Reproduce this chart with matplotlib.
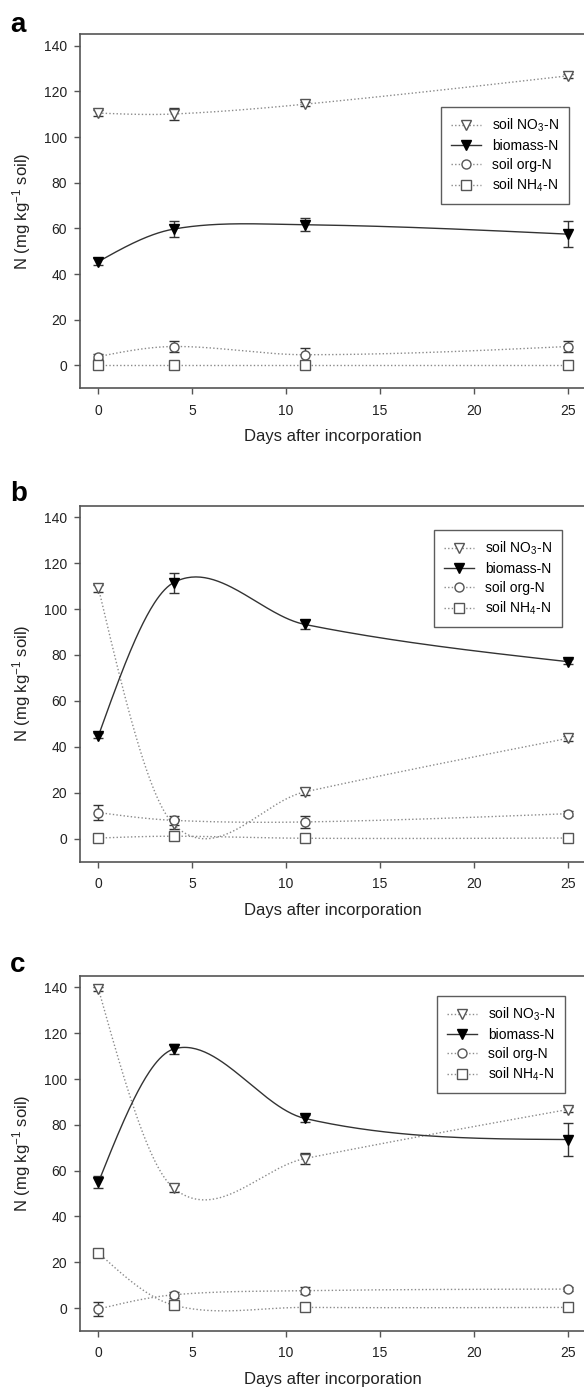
import numpy as np
import matplotlib
matplotlib.use("Agg")
import matplotlib.pyplot as plt

plt.rcParams['font.family'] = ['Liberation Sans', 'DejaVu Sans']
plt.rcParams['mathtext.default'] = 'regular'

# sampling days
days = [0, 4, 11, 25]

# panel a
a_no3 = [110.5, 110.1, 114.4, 126.8]
a_no3_err = [1.2, 2.7, 1.0, 1.0]
a_bio = [45.5, 59.7, 61.6, 57.5]
a_bio_err = [1.5, 3.4, 2.8, 5.7]
a_org = [3.9, 8.3, 4.7, 8.3]
a_org_err = [1.0, 2.4, 2.9, 2.6]
a_nh4 = [0.0, 0.0, 0.0, 0.0]
a_nh4_err = [0.5, 0.3, 1.0, 0.5]

# panel b
b_no3 = [109.1, 6.3, 20.4, 43.7]
b_no3_err = [1.5, 2.0, 1.5, 1.0]
b_bio = [44.9, 111.5, 93.3, 77.1]
b_bio_err = [1.0, 4.4, 2.0, 1.0]
b_org = [11.4, 8.0, 7.3, 10.9]
b_org_err = [3.3, 2.0, 2.5, 1.0]
b_nh4 = [0.3, 1.1, 0.2, 0.3]
b_nh4_err = [0.5, 0.8, 0.5, 0.5]

# panel c
c_no3 = [139.3, 52.4, 65.3, 86.7]
c_no3_err = [1.0, 1.5, 2.5, 1.0]
c_bio = [55.0, 113.1, 82.8, 73.6]
c_bio_err = [2.6, 2.3, 1.5, 7.3]
c_org = [-0.4, 5.8, 7.6, 8.3]
c_org_err = [3.0, 1.2, 1.5, 1.0]
c_nh4 = [24.1, 1.3, 0.3, 0.3]
c_nh4_err = [1.3, 1.0, 0.5, 0.5]

labels = ['soil NO$_3$-N', 'biomass-N', 'soil org-N', 'soil NH$_4$-N']


def spline(x, y, num=60):
    # Catmull-Rom style hermite curve through the points, natural-ish ends
    x = np.asarray(x, float)
    y = np.asarray(y, float)
    n = len(x)
    m = np.zeros(n)
    for i in range(1, n - 1):
        m[i] = (y[i + 1] - y[i - 1]) / (x[i + 1] - x[i - 1])
    d0 = (y[1] - y[0]) / (x[1] - x[0])
    d1 = (y[-1] - y[-2]) / (x[-1] - x[-2])
    m[0] = 1.5 * d0 - 0.5 * m[1]
    m[-1] = 1.5 * d1 - 0.5 * m[-2]
    xs_all, ys_all = [], []
    for i in range(n - 1):
        h = x[i + 1] - x[i]
        t = np.linspace(0, 1, num)
        h00 = 2 * t**3 - 3 * t**2 + 1
        h10 = t**3 - 2 * t**2 + t
        h01 = -2 * t**3 + 3 * t**2
        h11 = t**3 - t**2
        xs_all.append(x[i] + t * h)
        ys_all.append(h00 * y[i] + h10 * h * m[i] + h01 * y[i + 1] + h11 * h * m[i + 1])
    return np.concatenate(xs_all), np.concatenate(ys_all)


W, H = 584, 1389
fig = plt.figure(figsize=(W / 100, H / 100), dpi=100)

# axes boxes in pixels: (left, top, right, bottom)
boxes = [(79.7, 34.3, 586.5, 388.3), (79.7, 505.7, 586.5, 861.7), (79.7, 976, 586.5, 1331)]
legend_pos = [(441, 107.3), (434, 530), (437, 996)]
letter_pos = [(10, 31.7), (10, 500.7), (10, 971.7)]

panels = [
    ('a', [a_no3, a_bio, a_org, a_nh4], [a_no3_err, a_bio_err, a_org_err, a_nh4_err]),
    ('b', [b_no3, b_bio, b_org, b_nh4], [b_no3_err, b_bio_err, b_org_err, b_nh4_err]),
    ('c', [c_no3, c_bio, c_org, c_nh4], [c_no3_err, c_bio_err, c_org_err, c_nh4_err]),
]

dot = (0, (1, 1.6))
styles = [
    dict(marker='v', mfc='white', mec='#555555', ls=dot, color='#8a8a8a'),
    dict(marker='v', mfc='black', mec='black', ls='-', color='#333333'),
    dict(marker='o', mfc='white', mec='#555555', ls=dot, color='#8a8a8a'),
    dict(marker='s', mfc='white', mec='#555555', ls=dot, color='#8a8a8a'),
]

for k, (letter, series, errs) in enumerate(panels):
    l, t, r, b = boxes[k]
    ax = fig.add_axes([l / W, 1 - b / H, (r - l) / W, (b - t) / H])
    handles = []
    for vals, err, st in zip(series, errs, styles):
        xs, ys = spline(days, vals)
        ax.plot(xs, ys, ls=st['ls'], color=st['color'], lw=1.0, zorder=2)
        ax.errorbar(days, vals, yerr=err, fmt='none', ecolor='#333333',
                    elinewidth=1.0, capsize=3.5, capthick=1.0, zorder=3)
        ax.plot(days, vals, ls='none', marker=st['marker'], ms=6.5,
                mfc=st['mfc'], mec=st['mec'], mew=1.0, zorder=4)
        h, = ax.plot([], [], ls=st['ls'], color=st['color'], lw=1.0,
                     marker=st['marker'], ms=6.5, mfc=st['mfc'], mec=st['mec'], mew=1.0)
        handles.append(h)

    ax.set_xlim(-1, 26)
    ax.set_ylim(-10, 145)
    ax.set_xticks([0, 5, 10, 15, 20, 25])
    ax.set_yticks([0, 20, 40, 60, 80, 100, 120, 140])
    for s in ax.spines.values():
        s.set_color('#555555')
        s.set_linewidth(1.2)
    ax.spines['right'].set_visible(False)
    ax.tick_params(direction='out', length=4, width=1, color='#555555',
                   labelsize=10, labelcolor='#222222')
    ax.tick_params(axis='y', pad=5)
    ax.tick_params(axis='x', pad=7)
    ax.set_xlabel('Days after incorporation', fontsize=12, color='#222222')
    ax.set_ylabel('N (mg kg$^{-1}$ soil)', fontsize=12, color='#222222')
    ax.xaxis.set_label_coords(0.5, -0.115)
    ax.yaxis.set_label_coords(-0.093, 0.5)

    lx, ly = legend_pos[k]
    leg = ax.legend(handles, labels, loc='upper left',
                    bbox_to_anchor=((lx - l) / (r - l), (b - ly) / (b - t)),
                    borderaxespad=0, frameon=True, fancybox=False, fontsize=10,
                    handlelength=2.2, handletextpad=0.8, labelspacing=0.35,
                    borderpad=0.7)
    leg.get_frame().set_edgecolor('#333333')
    leg.get_frame().set_linewidth(1.0)

    fx, fy = letter_pos[k]
    fig.text(fx / W, 1 - fy / H, letter, fontsize=20, fontweight='bold',
             va='baseline', ha='left')

fig.savefig('out.png', dpi=100)
